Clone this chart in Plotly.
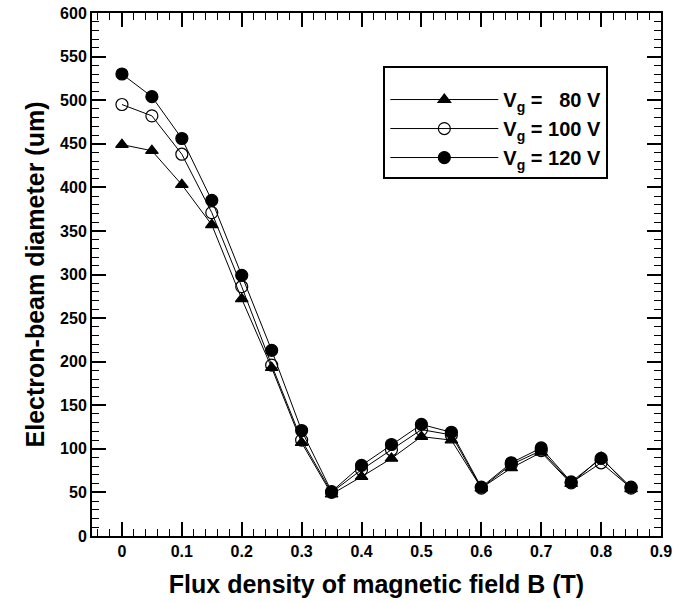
import plotly.graph_objects as go

flux = [0, 0.05, 0.1, 0.15, 0.2, 0.25, 0.3, 0.35, 0.4, 0.45, 0.5, 0.55, 0.6, 0.65, 0.7, 0.75, 0.8, 0.85]
vg80 = [449, 442, 403, 357, 272, 193, 107, 48, 68, 89, 114, 110, 55, 78, 96, 60, 90, 54]
vg100 = [495, 482, 438, 371, 286, 196, 110, 50, 76, 99, 122, 116, 55, 82, 98, 61, 84, 55]
vg120 = [530, 504, 456, 385, 299, 213, 121, 51, 81, 105, 128, 119, 56, 84, 101, 62, 89, 56]

names = ["V<sub>g</sub> =\u00a0\u00a0\u00a080 V", "V<sub>g</sub> = 100 V", "V<sub>g</sub> = 120 V"]
series = [vg80, vg100, vg120]
symbols = ["triangle-up", "circle-open", "circle"]
sizes = [11, 12, 12]

x_ticks = [0, 0.1, 0.2, 0.3, 0.4, 0.5, 0.6, 0.7, 0.8, 0.9]
x_ticktext = ["0", "0.1", "0.2", "0.3", "0.4", "0.5", "0.6", "0.7", "0.8", "0.9"]
y_ticks = list(range(0, 601, 50))

FONT = "Liberation Sans, Arial, sans-serif"

fig = go.Figure()
for name, ys, sym, sz in zip(names, series, symbols, sizes):
    fig.add_trace(go.Scatter(
        x=flux, y=ys, name=name, mode="lines+markers",
        line=dict(color="black", width=1),
        marker=dict(symbol=sym, size=sz, color="black",
                    line=dict(color="black", width=1.2)),
    ))

axis_common = dict(
    showline=True, linecolor="black", linewidth=2, mirror="allticks",
    ticks="inside", tickcolor="black", tickwidth=1.5, ticklen=14,
    showgrid=False, zeroline=False, automargin=False,
    tickfont=dict(family=FONT, size=16, color="black", weight="bold"),
)

fig.update_xaxes(
    range=[-0.05, 0.9], tickvals=x_ticks, ticktext=x_ticktext,
    minor=dict(ticks="inside", dtick=0.02, tick0=0, ticklen=7, tickcolor="black", tickwidth=1),
    title=dict(text="Flux density of magnetic field B (T)", standoff=16,
               font=dict(family=FONT, size=25, color="black", weight="bold")),
    **axis_common,
)
fig.update_yaxes(
    range=[0, 600], tickvals=y_ticks,
    minor=dict(ticks="inside", dtick=10, tick0=0, ticklen=7, tickcolor="black", tickwidth=1),
    title=dict(text="Electron-beam diameter (um)", standoff=8,
               font=dict(family=FONT, size=25, color="black", weight="bold")),
    **axis_common,
)

fig.update_layout(
    width=684, height=602,
    margin=dict(l=92, r=23, t=13, b=66),
    paper_bgcolor="white", plot_bgcolor="white",
    showlegend=True,
    legend=dict(
        x=0.512, y=0.898, xanchor="left", yanchor="top",
        bordercolor="black", borderwidth=2, bgcolor="white",
        font=dict(family=FONT, size=20, color="black", weight="bold"),
        itemwidth=108, tracegroupgap=0,
        title=dict(text=" ", font=dict(size=9)),
    ),
)

fig.write_html("out.html")
